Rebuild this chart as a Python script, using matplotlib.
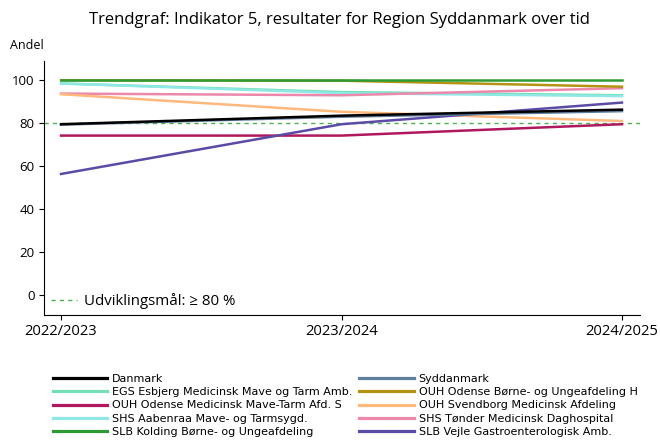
import matplotlib.pyplot as plt
from matplotlib.lines import Line2D

years = ["2022/2023", "2023/2024", "2024/2025"]

# series in legend order (column 1 then column 2)
names = ["Danmark",
         "EGS Esbjerg Medicinsk Mave og Tarm Amb.",
         "OUH Odense Medicinsk Mave-Tarm Afd. S",
         "SHS Aabenraa Mave- og Tarmsygd.",
         "SLB Kolding Børne- og Ungeafdeling",
         "Syddanmark",
         "OUH Odense Børne- og Ungeafdeling H",
         "OUH Svendborg Medicinsk Afdeling",
         "SHS Tønder Medicinsk Daghospital",
         "SLB Vejle Gastroenterologisk Amb."]

danmark = [79.5, 83.5, 86.3]
egs_esbjerg = [98.5, 94.5, 93.0]
ouh_odense_med = [74.2, 74.2, 79.5]
shs_aabenraa = [98.5, 94.0, 92.6]
slb_kolding = [100.0, 100.0, 100.0]
syddanmark = [79.3, 83.0, 85.6]
ouh_odense_boern = [100.0, 99.8, 97.0]
ouh_svendborg = [93.5, 85.3, 81.0]
shs_toender = [93.8, 93.0, 96.3]
slb_vejle = [56.3, 79.5, 89.6]

values = [danmark, egs_esbjerg, ouh_odense_med, shs_aabenraa, slb_kolding,
          syddanmark, ouh_odense_boern, ouh_svendborg, shs_toender, slb_vejle]
colors = ["#000000", "#72e0b4", "#b0185e", "#8fe8e6", "#2e9a33",
          "#5f7f9c", "#b39412", "#ffb97c", "#ec88ab", "#5b4ba6"]

target = 80

fig = plt.figure(figsize=(6.6, 4.45), dpi=100)
ax = fig.add_axes([0.067, 0.292, 0.903, 0.571])

x = list(range(len(years)))
# draw order: lower priority first so black sits on top
order = [1, 3, 8, 7, 6, 4, 2, 9, 5, 0]
for i in order:
    ax.plot(x, values[i], color=colors[i], lw=1.8, zorder=3 + order.index(i) * 0.1)

ax.axhline(target, color="#4caf50", lw=1, ls=(0, (3, 3)), zorder=2)

ax.set_xlim(-0.06, 2.065)
ax.set_ylim(-9.5, 109)
ax.set_xticks(x)
ax.set_xticklabels(years, fontsize=10.6, family="Open Sans")
ax.set_yticks([0, 20, 40, 60, 80, 100])
ax.tick_params(axis="y", labelsize=9.5)
for lab in ax.get_yticklabels():
    lab.set_family("Open Sans")
ax.tick_params(axis="x", pad=3)
ax.spines["top"].set_visible(False)
ax.spines["right"].set_visible(False)

goal = Line2D([], [], color="#4caf50", lw=1, ls=(0, (3, 3)))
ax.legend([goal], ["Udviklingsmål: ≥ 80 %"], loc="lower left", frameon=False,
          prop={"family": "Open Sans", "size": 10.8}, handlelength=1.75,
          handletextpad=0.5, bbox_to_anchor=(-0.012, -0.03))

fig.text(0.514, 0.955, "Trendgraf: Indikator 5, resultater for Region Syddanmark over tid",
         ha="center", va="center", fontsize=12, family="Open Sans")
fig.text(0.015, 0.898, "Andel", ha="left", va="center", fontsize=9, family="Open Sans")

handles = [Line2D([], [], color=c, lw=2.3) for c in colors]
fig.legend(handles, names, ncol=2, loc="upper left", bbox_to_anchor=(0.08, 0.16),
           frameon=False, fontsize=8, handlelength=4.9, handletextpad=0.45,
           labelspacing=0.3, columnspacing=0.6, borderaxespad=0, borderpad=0)

fig.savefig("out.png", dpi=100)
